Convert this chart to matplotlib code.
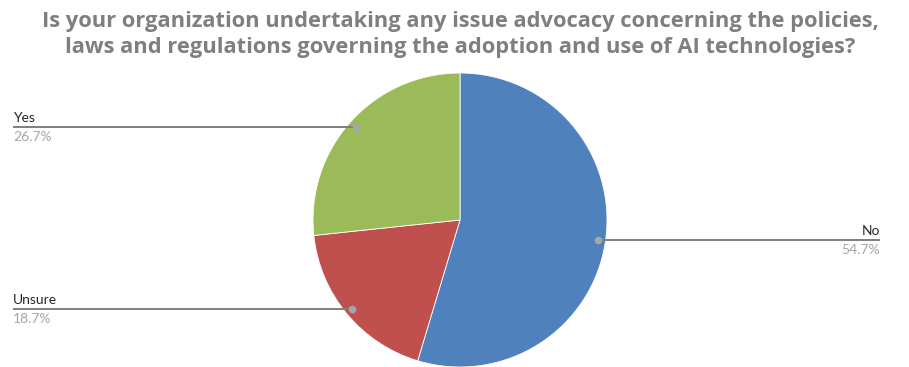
import numpy as np
import matplotlib
matplotlib.use("Agg")
import matplotlib.pyplot as plt

categories = ["No", "Unsure", "Yes"]
shares = [54.7, 18.7, 26.7]
colors = ["#4F81BD", "#C0504D", "#9BBB59"]
title_lines = ["Is your organization undertaking any issue advocacy concerning the policies,",
               "laws and regulations governing the adoption and use of AI technologies?"]

W, H = 909, 367
fig = plt.figure(figsize=(W / 100, H / 100), dpi=100)
ax = fig.add_axes([0, 0, 1, 1])

cx, cy, r = 460, H - 220, 147
wedges, _ = ax.pie(shares, colors=colors, startangle=90, counterclock=False,
                   center=(cx, cy), radius=r,
                   wedgeprops=dict(edgecolor="white", linewidth=0.6))
ax.set_xlim(0, W)
ax.set_ylim(0, H)
ax.set_aspect("auto")
ax.axis("off")

label_font = "Lato"
for w, name, val in zip(wedges, categories, shares):
    mid = np.deg2rad((w.theta1 + w.theta2) / 2)
    px = cx + 0.95 * r * np.cos(mid)
    py = cy + 0.95 * r * np.sin(mid)
    if np.cos(mid) >= 0:
        tx, ha = 880, "right"
    else:
        tx, ha = 13, "left"
    ax.plot([px, tx], [py, py], color="#7f7f7f", lw=1.4, solid_capstyle="butt", zorder=3)
    ax.plot([px], [py], "o", color="#a6a6a6", ms=4.5, zorder=4)
    ax.text(tx, py + 5, name, ha=ha, va="baseline", fontsize=10, color="#262626",
            family=label_font)
    ax.text(tx, py - 4, f"{val:.1f}%", ha=ha, va="top", fontsize=10, color="#a6a6a6",
            family=label_font)

# title, two centred lines
for yb, line in zip([27, 53], title_lines):
    fig.text(460 / W, 1 - yb / H, line, ha="center", va="baseline", fontsize=15.75,
             fontweight="bold", color="#7f7f7f", family="Open Sans")

fig.savefig("out.png", dpi=100)
